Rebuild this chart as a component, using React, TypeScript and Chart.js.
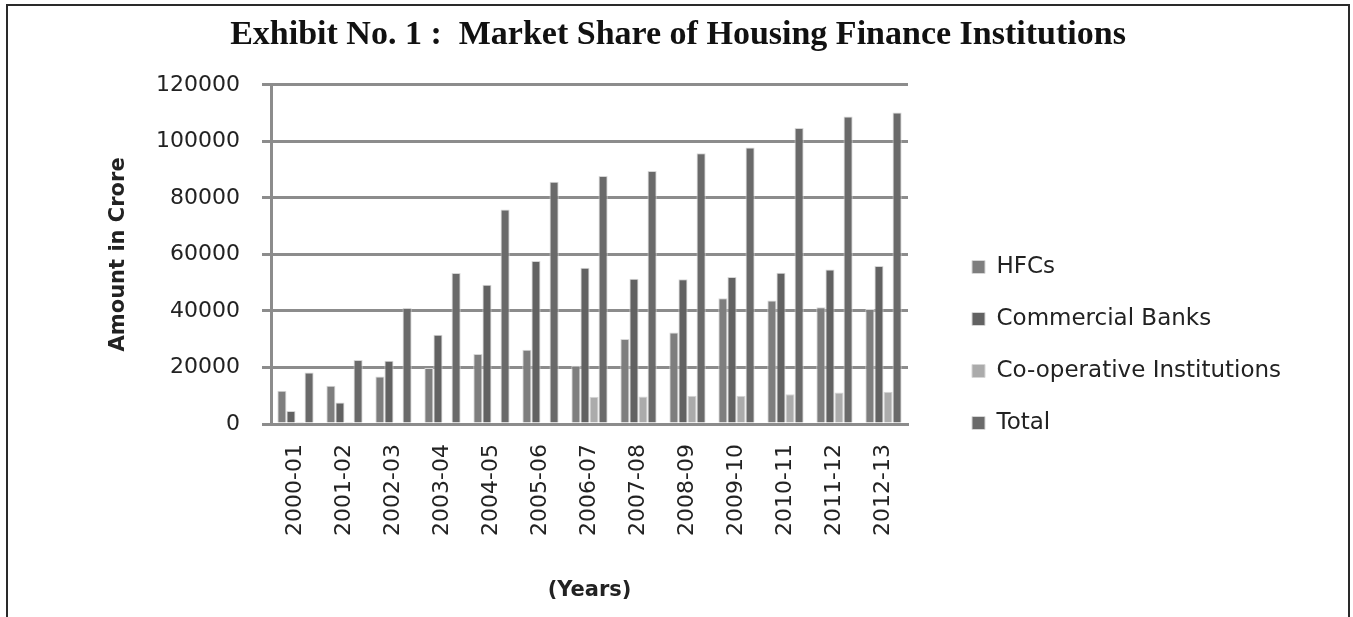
import React, { useEffect, useRef } from 'react';
import { Chart, registerables } from 'chart.js';

Chart.register(...registerables);

const years = ['2000-01', '2001-02', '2002-03', '2003-04', '2004-05', '2005-06', '2006-07', '2007-08', '2008-09', '2009-10', '2010-11', '2011-12', '2012-13'];
const hfcs = [11800, 13500, 16800, 19800, 24800, 26300, 20600, 30100, 32400, 44500, 43700, 41300, 40700];
const commercialBanks = [4600, 7600, 22400, 31600, 49300, 57700, 55300, 51400, 51200, 52000, 53500, 54700, 55900];
const cooperative = [300, 350, 400, 400, 450, 450, 9600, 9700, 9950, 9950, 10500, 11100, 11400];
const total = [18200, 22600, 41000, 53400, 75900, 85700, 87700, 89500, 95800, 97800, 104700, 108800, 110200];

const yMin = 0;
const yMax = 120000;
const yStep = 20000;

const seriesNames = ['HFCs', 'Commercial Banks', 'Co-operative Institutions', 'Total'];
const seriesColors = ['#7e7e7e', '#626262', '#ababab', '#6a6a6a'];

const FONT = '"DejaVu Sans", "Open Sans", sans-serif';

export default function App() {
  const ref = useRef<HTMLCanvasElement | null>(null);

  useEffect(() => {
    if (!ref.current) return;
    const legendPlace = {
      id: 'legendPlace',
      beforeUpdate(chart: any) {
        const lg = chart.legend;
        if (lg && !lg.__wrapped) {
          const orig = lg.fit.bind(lg);
          lg.fit = function () {
            orig();
            this.width = 440;
          };
          lg.__wrapped = true;
        }
      },
      afterLayout(chart: any) {
        const lg = chart.legend;
        if (!lg) return;
        lg.left += 35;
        lg.right += 35;
        lg.top += 38;
        lg.bottom += 38;
      },
    };

    const chart = new Chart(ref.current, {
      type: 'bar',
      data: {
        labels: years,
        datasets: [hfcs, commercialBanks, cooperative, total].map((d, i) => ({
          label: seriesNames[i],
          data: d,
          backgroundColor: seriesColors[i],
          borderColor: '#d6d6d6',
          borderWidth: 1,
          categoryPercentage: 0.74,
          barPercentage: 1.0,
        })),
      },
      options: {
        animation: false,
        responsive: false,
        maintainAspectRatio: false,
        layout: { padding: { left: 0, right: 0, top: 0, bottom: 9 } },
        plugins: {
          title: {
            display: true,
            text: 'Exhibit No. 1 :  Market Share of Housing Finance Institutions',
            color: '#111',
            font: { family: '"Liberation Serif", "Times New Roman", serif', size: 34, weight: 'bold' },
            padding: { top: 9, bottom: 29 },
          },
          legend: {
            display: true,
            position: 'right',
            labels: {
              color: '#222',
              font: { family: FONT, size: 23 },
              boxWidth: 13,
              boxHeight: 13,
              padding: 29,
            },
          },
          tooltip: { enabled: false },
        },
        scales: {
          x: {
            grid: { display: false, drawTicks: false },
            border: { display: true, color: '#8c8c8c', width: 3 },
            ticks: {
              color: '#222',
              font: { family: FONT, size: 22 },
              minRotation: 90,
              maxRotation: 90,
              padding: 20,
              autoSkip: false,
            },
            title: {
              display: true,
              text: '(Years)',
              color: '#222',
              font: { family: FONT, size: 21, weight: 'bold' },
              padding: { top: 0, bottom: 5 },
            },
            afterFit(scale: any) {
              scale.height = 611 - 9 - 418;
            },
          },
          y: {
            min: yMin,
            max: yMax,
            ticks: {
              stepSize: yStep,
              color: '#222',
              font: { family: FONT, size: 22 },
              padding: 22,
              callback: (v: any) => String(v),
            },
            grid: { color: '#8c8c8c', lineWidth: 3, tickLength: 9, drawTicks: true },
            border: { display: true, color: '#8c8c8c', width: 3 },
            title: {
              display: true,
              text: 'Amount in Crore',
              color: '#222',
              font: { family: FONT, size: 21, weight: 'bold' },
              padding: { top: 98, bottom: 0 },
            },
            afterFit(scale: any) {
              scale.width = 263;
            },
          },
        },
      },
      plugins: [legendPlace],
    });
    return () => chart.destroy();
  }, []);

  return (
    <div
      style={{
        position: 'absolute',
        left: 6,
        top: 4,
        width: 1340,
        height: 613,
        borderTop: '2px solid #2a2a2a',
        borderLeft: '2px solid #2a2a2a',
        borderRight: '2px solid #2a2a2a',
        background: '#fff',
      }}
    >
      <canvas ref={ref} width={1340} height={611} style={{ display: 'block', width: 1340, height: 611 }} />
    </div>
  );
}
